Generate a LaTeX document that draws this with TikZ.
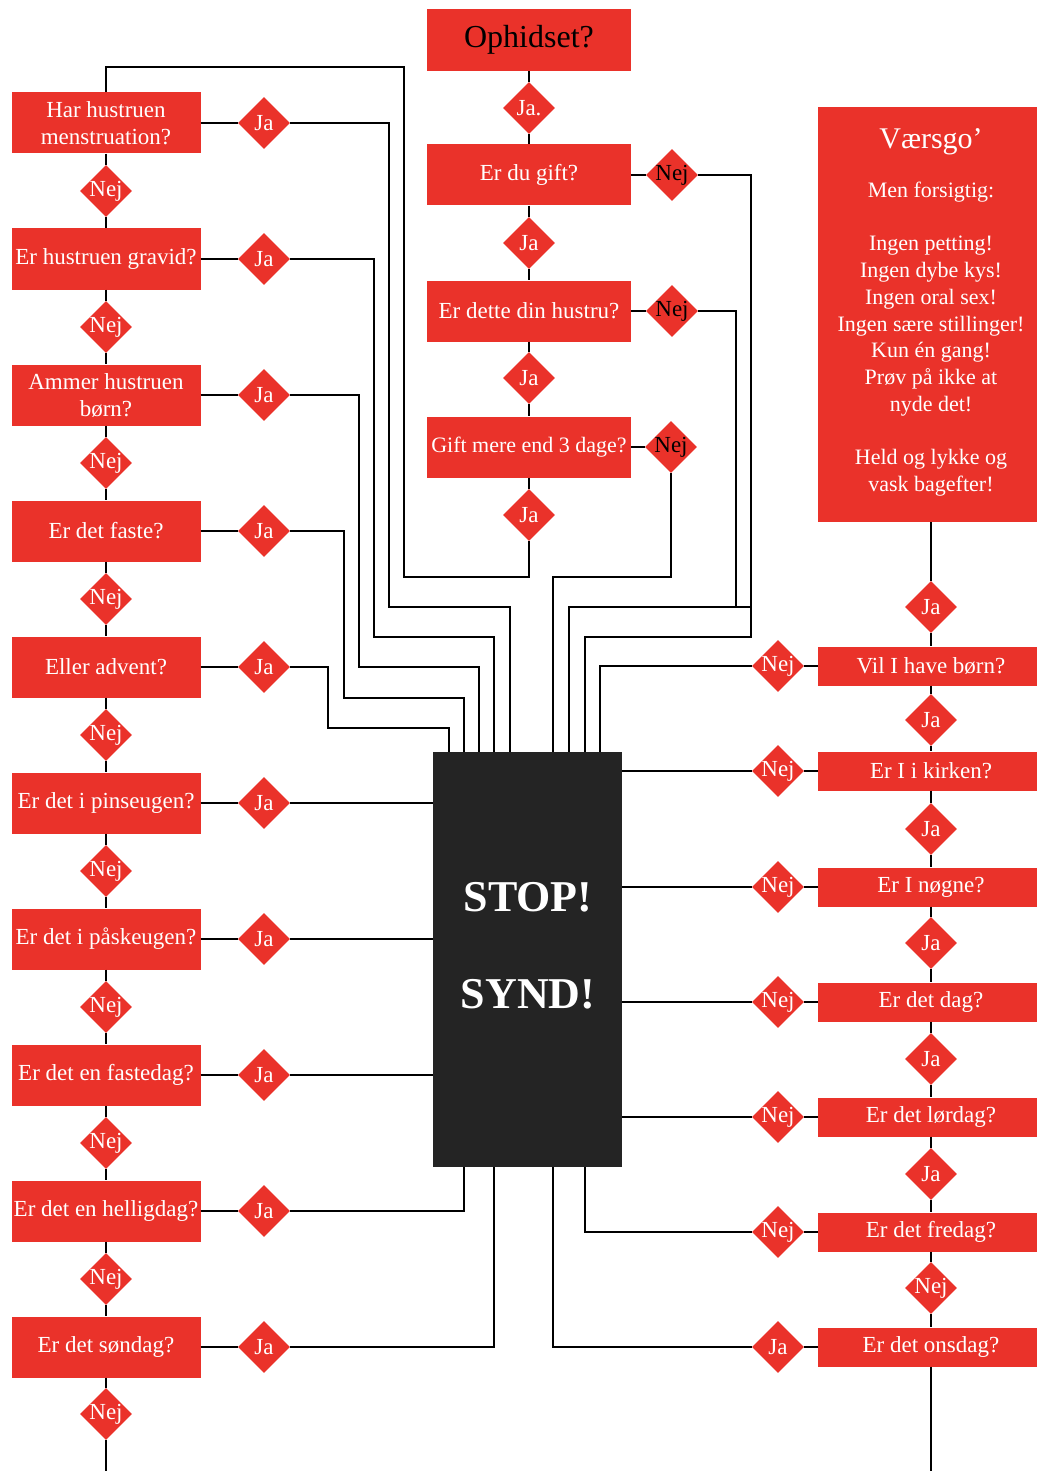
\documentclass[tikz,border=0pt]{standalone}
\usepackage{fontspec}
\setmainfont{Liberation Serif}
\usetikzlibrary{shapes.geometric}
\definecolor{myred}{RGB}{234,50,42}
\definecolor{stopblack}{RGB}{36,36,36}
\begin{document}
\begin{tikzpicture}[x=1pt,y=-1pt,
  qbox/.style={fill=myred,text=white,inner sep=0pt,minimum width=189pt,minimum height=61pt,align=center,font=\fontsize{23}{27}\selectfont},
  cbox/.style={qbox,minimum width=204pt},
  rbox/.style={qbox,minimum width=226pt,minimum height=39pt},
  dia/.style={diamond,fill=myred,text=white,inner sep=-3pt,minimum width=52pt,minimum height=52pt,font=\fontsize{23}{24}\selectfont},
  link/.style={draw=black,line width=1.5pt},
]
\useasboundingbox[fill=white] (0,0) rectangle (1036,1471);

% ---------- left column ----------
\node[qbox] (L1) at (106,123) {Har hustruen\\menstruation?};
\node[qbox] (L2) at (106,259) {Er hustruen gravid?};
\node[qbox] (L3) at (106,395) {Ammer hustruen\\børn?};
\node[qbox] (L4) at (106,531) {Er det faste?};
\node[qbox] (L5) at (106,667) {Eller advent?};
\node[qbox] (L6) at (106,803) {Er det i pinseugen?};
\node[qbox] (L7) at (106,939) {Er det i påskeugen?};
\node[qbox] (L8) at (106,1075) {Er det en fastedag?};
\node[qbox] (L9) at (106,1211) {Er det en helligdag?};
\node[qbox] (L10) at (106,1347) {Er det søndag?};
\foreach \i/\y in {1/191,2/327,3/463,4/599,5/735,6/871,7/1007,8/1143,9/1279,10/1414}
  {\node[dia] (LN\i) at (106,\y) {Nej};}
\foreach \i/\y in {1/123,2/259,3/395,4/531,5/667,6/803,7/939,8/1075,9/1211,10/1347}
  {\node[dia] (LJ\i) at (264,\y) {Ja};}

% ---------- centre column ----------
\node[cbox,minimum height=62pt,text=black,font=\fontsize{32}{34}\selectfont] (C0) at (529,40) {Ophidset?};
\node[dia] (CJ0) at (529,108) {Ja.};
\node[cbox] (C1) at (529,175) {Er du gift?};
\node[dia] (CJ1) at (529,243) {Ja};
\node[cbox] (C2) at (529,311) {Er dette din hustru?};
\node[dia] (CJ2) at (529,378) {Ja};
\node[cbox,font=\fontsize{22}{27}\selectfont] (C3) at (529,447) {Gift mere end 3 dage?};
\node[dia] (CJ3) at (529,515) {Ja};
\node[dia,text=black] (CN1) at (672,175) {Nej};
\node[dia,text=black] (CN2) at (672,311) {Nej};
\node[dia,text=black] (CN3) at (671,447) {Nej};

% ---------- STOP box ----------
\node[fill=stopblack,inner sep=0pt,minimum width=189pt,minimum height=415pt] (S) at (527.5,959.5) {};
\node[text=white,align=center,font=\bfseries\fontsize{44}{97}\selectfont] (ST) at (528,946) {STOP!\\SYND!};

% ---------- right column ----------
\node[qbox,minimum width=226pt,minimum height=415pt] (R0) at (931,314.5) {};
\node[text=white,font=\fontsize{30}{32}\selectfont] (RT) at (931,142) {Værsgo’};
\node[text=white,align=center,font=\fontsize{22}{26.7}\selectfont] (RB) at (931,339) {Men forsigtig:\\~\\Ingen petting!\\Ingen dybe kys!\\Ingen oral sex!\\Ingen sære stillinger!\\Kun én gang!\\Prøv på ikke at\\nyde det!\\~\\Held og lykke og\\vask bagefter!};
\node[rbox] (R1) at (931,666) {Vil I have børn?};
\node[rbox] (R2) at (931,771) {Er I i kirken?};
\node[rbox] (R3) at (931,887) {Er I nøgne?};
\node[rbox] (R4) at (931,1002) {Er det dag?};
\node[rbox] (R5) at (931,1117) {Er det lørdag?};
\node[rbox] (R6) at (931,1232) {Er det fredag?};
\node[rbox] (R7) at (931,1347) {Er det onsdag?};
\foreach \i/\y/\t in {1/607/Ja,2/720/Ja,3/829/Ja,4/943/Ja,5/1059/Ja,6/1174/Ja,7/1288/Nej}
  {\node[dia] (RJ\i) at (931,\y) {\t};}
\foreach \i/\y/\t in {1/666/Nej,2/771/Nej,3/887/Nej,4/1002/Nej,5/1117/Nej,6/1232/Nej,7/1347/Ja}
  {\node[dia] (RL\i) at (778,\y) {\t};}

% ---------- connectors ----------
\foreach \i in {1,...,10} {\draw[link] (L\i) -- (LN\i); \draw[link] (L\i) -- (LJ\i);}
\foreach \i [evaluate=\i as \j using int(\i+1)] in {1,...,9} {\draw[link] (LN\i) -- (L\j);}
\draw[link] (LN10) -- (LN10 |- 0,1471);

\draw[link] (C0) -- (CJ0);
\draw[link] (CJ0) -- (C1);
\draw[link] (C1) -- (CJ1);
\draw[link] (CJ1) -- (C2);
\draw[link] (C2) -- (CJ2);
\draw[link] (CJ2) -- (C3);
\draw[link] (C3) -- (CJ3);
\draw[link] (C1) -- (CN1);
\draw[link] (C2) -- (CN2);
\draw[link] (C3) -- (CN3);

% Ja under "Gift mere end 3 dage?" -> back to first left question
\draw[link] (CJ3) |- (404,577) |- (106,67) -- (L1);

% left Ja branches into STOP
\draw[link] (LJ1) -| (389,607) -| (S.north -| 510,0);
\draw[link] (LJ2) -| (374,637) -| (S.north -| 494,0);
\draw[link] (LJ3) -| (359,667) -| (S.north -| 479,0);
\draw[link] (LJ4) -| (344,698) -| (S.north -| 464,0);
\draw[link] (LJ5) -| (328,728) -| (S.north -| 449,0);
\draw[link] (LJ6) -- (LJ6 -| S.west);
\draw[link] (LJ7) -- (LJ7 -| S.west);
\draw[link] (LJ8) -- (LJ8 -| S.west);
\draw[link] (LJ9) -| (S.south -| 464,0);
\draw[link] (LJ10) -| (S.south -| 494,0);

% centre Nej branches into STOP
\draw[link] (CN1) -| (751,637) -| (S.north -| 585,0);
\draw[link] (CN2) -| (736,607);
\draw[link] (751,607) -| (S.north -| 569,0);
\draw[link] (CN3) |- (553,577) -- (S.north -| 553,0);

% right column
\draw[link] (R0) -- (RJ1);
\foreach \i in {1,...,7} {\draw[link] (RJ\i) -- (R\i);}
\foreach \i [evaluate=\i as \k using int(\i-1)] in {2,...,7} {\draw[link] (R\k) -- (RJ\i);}
\draw[link] (R7) -- (R7 |- 0,1471);
\foreach \i in {1,...,7} {\draw[link] (R\i) -- (RL\i);}
\draw[link] (RL1) -| (S.north -| 600,0);
\draw[link] (RL2) -- (RL2 -| S.east);
\draw[link] (RL3) -- (RL3 -| S.east);
\draw[link] (RL4) -- (RL4 -| S.east);
\draw[link] (RL5) -- (RL5 -| S.east);
\draw[link] (RL6) -| (S.south -| 585,0);
\draw[link] (RL7) -| (S.south -| 553,0);
\end{tikzpicture}
\end{document}
